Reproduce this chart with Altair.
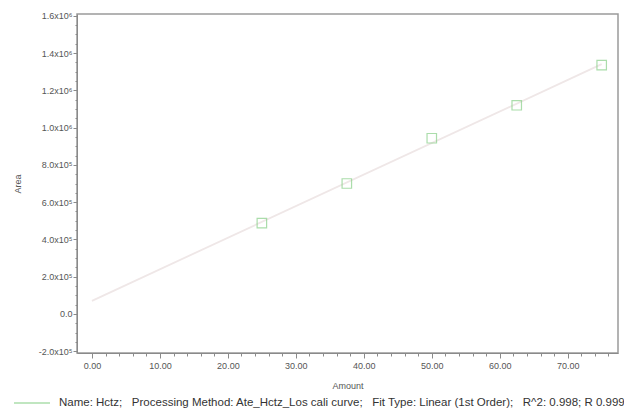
import altair as alt
import pandas as pd

# data
amount = [25.0, 37.5, 50.0, 62.5, 75.0]
area = [487000, 700000, 943000, 1120000, 1336000]
NB = "\u00a0"
series_label = ("Name: Hctz;" + NB * 3 + "Processing Method: Ate_Hctz_Los cali curve;" + NB * 3 +
                "Fit Type: Linear (1st Order);" + NB * 3 + "R^2: 0.998; R 0.999")

x_major = [0, 10, 20, 30, 40, 50, 60, 70]
x_minor = list(range(0, 78, 2))
y_major = [-200000, 0, 200000, 400000, 600000, 800000, 1000000, 1200000, 1400000, 1600000]
y_minor = list(range(-200000, 1600001, 50000))

df = pd.DataFrame({"Amount": amount, "Area": area, "Series": [series_label] * len(amount)})

FONT = "Liberation Sans"
xscale = alt.Scale(domain=[-2.2, 77.4], nice=False, zero=False)
yscale = alt.Scale(domain=[-210000, 1610000], nice=False, zero=False)

y_label_expr = ("datum.value == 0 ? '0.0' : (abs(datum.value) >= 1000000 ? "
                "format(datum.value/1000000, '.1f') + 'x10⁶' : "
                "replace(format(datum.value/100000, '.1f'), '−', '-') + 'x10⁵')")

base = alt.Chart(df)

fit = base.transform_regression(
    "Amount", "Area", method="linear", extent=[0, 75]
).mark_line(color="#efe7e7", strokeWidth=1.8).encode(
    x=alt.X("Amount:Q", scale=xscale,
            axis=alt.Axis(values=x_major, format=".2f", title="Amount", orient="bottom",
                          tickSize=5, labelPadding=3, titleY=32, titleBaseline="middle")),
    y=alt.Y("Area:Q", scale=yscale,
            axis=alt.Axis(values=y_major, labelExpr=y_label_expr, title="Area", orient="left",
                          tickSize=4, labelPadding=1, titleX=-60, titleBaseline="middle")),
)

pts = base.mark_point(shape="square", filled=False, size=90, strokeWidth=1.2).encode(
    x=alt.X("Amount:Q", scale=xscale,
            axis=alt.Axis(values=x_minor, labels=False, title=None, orient="bottom",
                          tickSize=3, domain=False)),
    y=alt.Y("Area:Q", scale=yscale,
            axis=alt.Axis(values=y_minor, labels=False, title=None, orient="left",
                          tickSize=2, domain=False)),
    color=alt.Color("Series:N", scale=alt.Scale(range=["#88d088"]),
                    legend=alt.Legend(title=None, orient="none", legendX=-64, legendY=370,
                                      symbolType="stroke", symbolSize=1300,
                                      symbolStrokeWidth=1.5, labelFontSize=11.5,
                                      labelLimit=1000, labelColor="#333333",
                                      labelOffset=8, labelFont=FONT, padding=0)),
)

chart = alt.layer(fit, pts).resolve_axis(
    x="independent", y="independent"
).properties(
    width=541, height=339,
    padding={"left": 69, "top": 6, "right": 6, "bottom": 57},
    autosize=alt.AutoSizeParams(type="none"),
    background="white",
).configure_view(
    stroke="#9a9a9a", strokeWidth=1.5
).configure_axis(
    labelFont=FONT, labelFontSize=9, labelColor="#555555",
    titleFont=FONT, titleFontSize=9, titleFontWeight="normal", titleColor="#555555",
    domainColor="#8a8a8a", tickColor="#8a8a8a", grid=False,
)

chart.save("out.html", embed_options={"renderer": "svg", "actions": False})
